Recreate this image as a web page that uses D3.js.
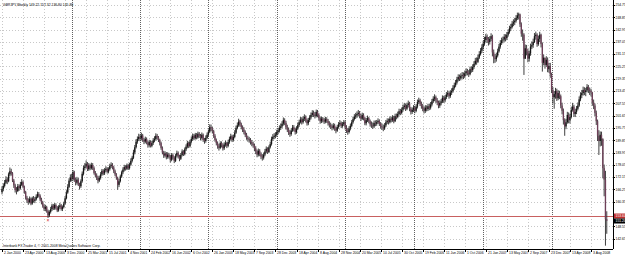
<!DOCTYPE html>
<meta charset="utf-8">
<script src="https://d3js.org/d3.v7.min.js"></script>
<style>
  body { margin: 0; background: #fff; }
  svg { display: block; }
  text { font-family: "Liberation Sans", Arial, sans-serif; }
</style>
<div id="chart"></div>
<script>
  // weekly GBPJPY bars, first bar dated 2 Jan 2000, one bar per week
  var startDate = new Date(2000, 0, 2);
  var firstOpen = 165.0;

  var closes = [
    // 2000
    166.5,168.0,169.5,171.0,170.2,173.5,175.0,174.0,170.5,168.2,166.0,165.5,167.8,166.9,168.5,169.8,
    167.5,165.0,162.3,161.0,160.2,161.8,159.5,162.0,160.8,161.5,162.8,164.0,163.2,161.5,160.0,158.2,
    157.0,157.8,155.9,153.8,155.5,156.8,158.5,157.2,158.8,157.5,156.2,157.9,158.6,156.9,157.8,159.5,
    162.0,164.8,167.5,170.5,
    // 2001
    172.0,171.2,174.5,170.8,169.5,171.0,168.6,167.8,170.2,173.8,176.5,177.3,178.6,176.0,177.8,176.4,
    178.0,176.5,174.2,173.0,172.0,170.5,171.8,173.5,175.2,174.0,175.5,176.2,174.8,176.0,177.5,178.1,
    176.8,175.0,173.5,171.8,168.5,170.2,172.5,174.5,175.8,177.0,176.2,177.8,176.5,178.2,180.0,181.5,
    184.0,186.5,189.2,190.5,
    // 2002
    191.5,190.8,192.2,190.0,189.2,190.5,188.8,187.5,189.0,187.2,188.5,189.8,190.5,192.0,191.2,190.0,
    188.5,186.2,184.0,182.5,183.5,181.8,183.0,182.0,180.5,182.8,181.5,180.0,182.5,183.8,182.0,181.0,
    182.8,184.5,183.2,185.5,186.8,188.5,187.0,189.2,190.5,192.0,190.8,192.5,191.2,193.0,192.0,191.0,
    192.5,190.0,189.5,191.0,
    // 2003
    192.5,194.0,196.2,195.5,194.2,192.0,190.0,188.5,187.0,186.2,188.5,187.5,186.0,187.8,188.5,187.2,
    189.0,190.5,191.8,190.0,191.5,193.5,195.8,197.0,198.8,197.5,196.2,195.0,193.8,192.5,191.0,190.5,
    190.0,189.0,188.2,187.5,186.0,184.5,183.0,184.8,183.2,182.0,181.5,183.0,184.5,185.8,184.2,186.5,
    188.0,190.5,191.5,192.0,
    // 2004
    192.5,193.8,194.5,195.8,196.5,197.8,199.5,198.2,196.0,195.0,193.5,192.8,194.5,196.0,195.2,193.8,
    195.5,197.2,198.5,199.8,198.5,200.2,201.0,199.5,198.0,199.5,200.8,202.0,203.0,202.2,201.5,203.5,
    202.0,200.5,199.0,200.2,199.5,198.8,200.0,199.2,198.0,197.2,196.5,195.8,197.0,195.5,194.5,196.2,
    197.5,198.2,196.8,197.5,198.5,
    // 2005
    196.0,194.5,193.8,195.5,196.8,198.5,200.0,201.2,201.8,202.5,203.0,201.5,200.2,202.0,200.5,198.0,
    199.5,200.5,199.0,197.5,197.0,196.5,198.2,197.8,198.5,199.2,197.8,196.5,196.0,195.5,197.0,198.5,
    199.2,198.5,200.2,199.5,200.8,199.0,201.5,201.0,202.5,203.8,203.0,204.5,205.8,206.5,205.0,206.8,
    207.5,205.0,203.5,204.5,
    // 2006
    205.5,204.0,206.0,208.2,209.0,207.5,206.2,205.0,204.0,205.5,204.8,206.2,205.5,207.0,208.5,209.8,
    210.5,209.0,208.0,206.5,207.8,208.5,210.2,209.0,210.5,211.8,212.5,211.0,212.8,213.5,215.0,216.2,
    217.5,219.0,220.2,219.5,220.8,221.2,220.5,222.0,223.0,222.2,221.5,224.0,223.5,225.0,226.5,228.0,
    227.5,229.5,231.2,232.8,
    // 2007
    234.5,236.2,238.0,239.5,238.2,237.0,238.5,239.8,232.0,229.5,228.8,230.5,232.5,234.8,236.5,237.8,
    238.2,239.5,238.8,240.5,241.8,243.5,244.2,245.8,246.5,247.2,248.5,249.8,250.2,245.5,241.0,240.5,
    229.0,234.0,232.5,229.0,231.5,234.8,235.5,237.0,239.8,240.5,236.0,238.5,240.5,236.0,227.0,229.5,
    226.0,228.5,224.0,225.5,
    // 2008
    221.5,214.0,210.5,212.0,213.5,210.0,212.5,211.0,206.5,204.0,199.5,196.5,198.5,202.0,199.5,201.0,
    204.5,206.0,202.5,203.5,205.0,206.5,209.5,211.5,212.5,214.0,213.0,213.8,215.5,214.0,213.5,212.8,
    208.0,206.5,203.0,199.0,192.0,189.5,192.5,190.5,176.5,171.0,152.0,151.2
  ];

  var highs = [
    // 2000
    167.8,169.2,170.8,172.6,172.1,174.4,176.8,176.2,174.6,171.3,169.0,167.4,168.9,168.7,169.9,171.2,
    170.4,168.1,165.6,163.2,162.0,162.9,162.4,162.8,163.1,162.6,163.9,165.2,165.0,163.9,162.3,160.8,
    159.1,158.9,158.4,156.6,156.3,157.9,159.4,159.3,159.7,159.6,158.3,158.7,159.8,159.3,158.6,160.4,
    163.1,165.9,168.8,171.6,
    // 2001
    173.5,173.8,175.6,175.2,171.9,172.3,171.8,169.5,171.1,174.9,177.8,178.9,180.2,179.4,178.9,178.6,
    179.1,178.9,177.3,175.1,174.0,172.8,172.9,174.6,176.1,176.0,176.5,177.4,177.0,176.9,178.6,179.3,
    178.9,177.6,175.8,174.1,172.4,171.3,173.4,175.3,176.9,178.1,177.9,178.7,178.6,179.1,181.2,182.4,
    185.3,187.6,190.4,191.7,
    // 2002
    193.0,192.7,193.5,192.9,191.0,191.6,191.2,189.6,190.1,189.8,189.6,190.9,191.8,193.2,192.9,191.9,
    190.6,189.2,186.9,184.8,184.6,184.2,184.1,183.8,182.9,183.7,183.6,182.2,183.4,184.9,184.5,182.9,
    183.7,185.5,185.1,186.4,187.9,189.6,189.2,190.1,191.7,193.1,192.9,193.4,193.3,194.0,193.8,192.9,
    193.6,193.1,191.0,192.2,
    // 2003
    193.6,195.1,197.5,197.4,196.3,194.9,192.8,190.7,189.3,188.0,189.4,189.3,188.4,188.9,189.7,189.1,
    190.1,191.6,193.0,192.5,192.6,194.7,196.9,198.4,200.2,199.6,198.3,197.0,196.1,194.6,193.4,192.0,
    191.5,190.9,190.0,189.2,188.3,187.0,185.4,185.9,185.6,184.1,183.2,184.0,185.7,186.9,186.5,187.4,
    189.2,191.6,192.8,193.3,
    // 2004
    193.7,194.9,195.8,197.0,197.9,199.0,200.8,200.4,199.2,197.3,196.0,194.7,195.6,197.2,197.1,195.9,
    196.6,198.4,199.7,201.0,200.9,201.4,202.3,201.8,200.3,200.6,201.9,203.2,204.3,204.1,203.4,204.6,
    204.4,202.8,201.3,201.2,201.0,200.6,201.1,200.9,200.1,199.0,198.3,197.6,198.1,197.8,196.4,197.3,
    198.6,199.5,198.9,198.6,199.6,
    // 2005
    199.2,197.1,195.7,196.6,197.9,199.6,201.2,202.4,203.0,203.7,204.4,203.9,202.6,203.1,202.8,201.2,
    200.6,201.7,201.1,199.8,198.9,198.4,199.3,199.4,199.6,200.4,199.9,198.6,197.9,197.4,198.1,199.6,
    200.4,200.3,201.3,201.2,201.9,201.6,202.6,202.7,203.6,205.0,204.9,205.6,207.0,207.8,207.4,207.9,
    208.9,208.3,205.9,205.6,
    // 2006
    206.7,206.4,207.2,209.4,210.3,209.8,208.4,207.3,206.1,206.7,206.6,207.4,207.3,208.2,209.7,211.0,
    211.9,211.3,210.1,208.9,209.0,209.7,211.4,211.2,211.6,213.0,213.8,213.4,213.9,214.8,216.3,217.5,
    218.8,220.3,221.5,221.4,222.0,222.6,222.4,223.3,224.4,224.1,223.5,225.2,225.3,226.3,227.8,229.4,
    229.6,230.8,232.6,234.1,
    // 2007
    235.9,237.6,239.5,240.9,240.6,239.4,239.8,241.2,240.5,233.4,231.2,231.9,233.8,236.1,237.9,239.1,
    239.6,240.8,240.7,241.8,243.1,244.8,245.7,247.1,247.9,248.6,249.9,251.1,251.1,250.6,246.4,243.0,
    241.2,235.8,235.6,233.7,232.8,236.2,237.3,238.6,241.3,242.0,241.2,240.1,241.9,241.0,236.8,231.0,
    229.4,230.2,229.6,227.0,
    // 2008
    227.0,222.3,215.4,213.5,215.0,214.6,213.9,213.6,211.8,207.9,205.1,200.4,200.1,203.5,203.2,202.6,
    206.0,207.8,206.9,205.0,206.3,208.0,210.9,212.9,214.0,215.6,215.3,215.0,216.8,216.4,215.2,214.6,
    213.1,209.4,207.5,204.1,199.8,194.7,194.1,194.0,190.8,178.2,175.2,155.8
  ];

  var lows = [
    // 2000
    163.9,165.4,167.2,168.9,168.8,169.7,172.6,172.9,169.8,167.0,164.8,163.9,165.0,165.6,166.2,167.9,
    166.8,164.2,161.4,159.8,158.9,159.6,158.7,158.9,160.0,159.7,160.9,162.1,162.4,160.6,159.1,157.5,
    156.0,155.8,155.1,152.6,153.0,154.7,155.9,156.4,156.5,156.6,155.4,155.6,157.0,156.1,155.9,157.2,
    159.0,161.5,164.2,166.9,
    // 2001
    169.8,170.1,170.5,169.9,168.2,168.6,167.9,166.2,167.0,169.5,173.0,175.4,176.5,175.1,175.2,175.5,
    175.8,175.6,173.4,172.0,170.8,169.2,169.8,171.0,172.8,173.1,173.2,174.6,173.9,174.0,175.3,176.6,
    175.9,174.1,172.6,170.9,166.1,167.4,169.6,171.8,173.6,174.9,175.3,175.6,175.6,175.8,177.6,179.2,
    180.8,183.1,185.9,188.2,
    // 2002
    189.6,189.4,189.9,189.1,188.0,188.4,187.9,186.3,186.7,186.4,186.5,187.6,188.9,189.7,190.1,189.0,
    187.4,185.3,183.1,181.4,181.6,180.7,181.0,181.1,179.2,179.8,180.6,178.9,179.4,181.6,181.1,179.8,
    180.4,182.1,182.3,182.6,184.7,186.0,186.1,186.4,188.3,189.6,189.9,190.2,190.3,190.6,191.0,189.8,
    190.2,189.1,188.2,188.7,
    // 2003
    190.4,191.7,193.3,194.2,193.1,191.0,189.2,187.4,185.8,184.9,185.6,186.4,184.9,185.2,186.8,186.1,
    186.5,188.2,189.7,189.0,189.3,190.8,192.9,195.1,196.3,196.4,195.1,193.8,192.7,191.4,190.1,189.2,
    188.7,187.8,187.0,186.3,184.6,183.2,181.7,182.1,182.2,180.8,180.1,180.6,182.2,183.6,183.3,183.7,
    185.9,187.3,189.6,190.4,
    // 2004
    190.9,191.5,192.7,193.6,194.8,195.6,196.9,197.1,195.0,193.8,192.4,191.5,192.0,193.9,194.1,192.6,
    193.0,194.9,196.3,197.9,197.4,197.8,199.1,198.4,196.9,197.1,198.6,199.9,201.1,201.0,200.3,200.8,
    200.9,199.4,197.8,198.1,198.4,197.7,198.0,198.2,196.9,196.0,195.3,194.6,195.0,194.4,193.2,193.9,
    195.4,196.6,195.7,195.9,196.7,
    // 2005
    195.0,193.4,192.5,193.1,194.6,196.1,197.8,199.3,200.1,200.6,201.3,200.4,199.1,199.6,199.4,197.1,
    197.0,198.6,198.0,196.4,195.8,195.3,195.7,196.6,196.8,197.6,196.7,195.4,194.8,194.2,194.8,196.2,
    197.6,197.4,197.9,198.4,198.7,198.0,198.6,199.9,200.4,201.7,201.9,202.3,203.6,204.7,203.9,204.3,
    205.6,203.8,202.2,202.5,
    // 2006
    203.4,202.8,203.3,205.1,207.2,206.3,205.0,203.8,202.7,203.0,203.7,203.9,204.3,204.6,206.1,207.7,
    208.6,207.8,206.7,205.2,205.4,206.6,207.7,207.8,208.1,209.6,210.7,209.8,210.2,211.6,212.7,214.1,
    215.3,216.6,218.1,218.3,218.6,219.4,219.2,219.7,220.9,221.0,220.2,221.0,222.3,222.6,224.1,225.8,
    226.1,226.9,228.8,230.5,
    // 2007
    231.7,233.4,235.2,236.8,236.5,235.3,235.8,237.4,230.1,226.8,227.0,227.6,229.6,231.9,233.8,235.6,
    236.4,237.1,237.3,237.9,239.6,241.0,242.3,243.5,244.6,245.1,246.3,247.6,247.8,244.2,239.5,237.6,
    221.2,228.9,230.6,227.3,227.6,230.4,233.6,234.2,236.5,238.1,234.7,235.2,237.0,234.4,222.8,225.8,
    224.2,225.1,222.5,222.3,
    // 2008
    219.8,212.5,207.6,205.0,209.8,208.7,209.1,209.6,205.2,202.3,197.4,192.0,195.2,197.8,198.0,197.9,
    200.3,203.6,201.1,201.0,202.4,204.2,205.9,208.6,210.1,211.3,211.5,211.0,212.9,212.5,211.6,210.9,
    206.4,204.8,201.5,197.2,189.5,182.8,186.9,187.2,171.6,163.0,139.3,145.0
  ];

  // axis text
  var priceTicks = [254.75,248.85,242.95,237.05,231.15,225.25,219.35,213.45,207.55,201.65,
                    195.75,189.85,183.95,178.05,172.15,166.25,160.35,148.55,142.65];
  var dateLabels = ["2 Jan 2000","23 Apr 2000","13 Aug 2000","3 Dec 2000","25 Mar 2001","15 Jul 2001",
    "4 Nov 2001","24 Feb 2002","16 Jun 2002","6 Oct 2002","26 Jan 2003","18 May 2003","7 Sep 2003",
    "28 Dec 2003","18 Apr 2004","8 Aug 2004","28 Nov 2004","20 Mar 2005","10 Jul 2005","30 Oct 2005",
    "19 Feb 2006","11 Jun 2006","1 Oct 2006","21 Jan 2007","13 May 2007","2 Sep 2007","23 Dec 2007",
    "13 Apr 2008","3 Aug 2008"];
  var headerText = "GBPJPY,Weekly  149.22 157.32 136.80 145.80";
  var footerText = "Interbank FX Trader 4, \u00a9 2001-2008 MetaQuotes Software Corp.";
  var levelLine = 153.6;   // red horizontal line
  var bidPrice = 151.2;    // current price

  var W = 625, H = 255;
  var plotRight = 613, plotBottom = 249;
  var fs = 3.4;            // tiny chart font

  var svg = d3.select("#chart").append("svg")
      .attr("width", W)
      .attr("height", H);

  svg.append("rect").attr("width", W).attr("height", H).attr("fill", "#fff");

  var x = d3.scaleLinear().domain([0, 448]).range([2, 591]);
  var y = d3.scaleLinear().domain([137.7, 257.15]).range([plotBottom, 0]);
  var step = x(1) - x(0);

  var bars = closes.map(function(c, i) {
    return {
      i: i,
      date: d3.timeDay.offset(startDate, 7 * i),
      open: i ? closes[i - 1] : firstOpen,
      high: highs[i], low: lows[i], close: c
    };
  });

  // horizontal grid
  svg.append("g").selectAll("line")
    .data(priceTicks).enter().append("line")
      .attr("x1", 0).attr("x2", plotRight)
      .attr("y1", function(d) { return Math.round(y(d)) + 0.5; })
      .attr("y2", function(d) { return Math.round(y(d)) + 0.5; })
      .attr("stroke", "#c8c8c8").attr("stroke-dasharray", "1,2");

  // vertical grid at date labels
  var fmt = d3.timeParse("%e %b %Y");
  var dateBars = dateLabels.map(function(s) {
    return { label: s, i: Math.round((fmt(s) - startDate) / (7 * 864e5)) };
  });
  svg.append("g").selectAll("line")
    .data(dateBars).enter().append("line")
      .attr("x1", function(d) { return Math.round(x(d.i)) + 0.5; })
      .attr("x2", function(d) { return Math.round(x(d.i)) + 0.5; })
      .attr("y1", 0).attr("y2", plotBottom)
      .attr("stroke", "#c8c8c8").attr("stroke-dasharray", "1,2");

  // year separators
  var yearStarts = bars.filter(function(d, k) {
    return k > 0 && d.date.getFullYear() != bars[k - 1].date.getFullYear();
  });
  svg.append("g").selectAll("line")
    .data(yearStarts).enter().append("line")
      .attr("x1", function(d) { return Math.round(x(d.i)) + 0.5; })
      .attr("x2", function(d) { return Math.round(x(d.i)) + 0.5; })
      .attr("y1", 0).attr("y2", plotBottom)
      .attr("stroke", "#606060").attr("stroke-dasharray", "1,1");

  // level line
  svg.append("line")
    .attr("x1", 0).attr("x2", plotRight)
    .attr("y1", Math.round(y(levelLine)) + 0.5).attr("y2", Math.round(y(levelLine)) + 0.5)
    .attr("stroke", "#c86060");

  // candles
  var g = svg.append("g");
  g.selectAll("line.wick")
    .data(bars).enter().append("line")
      .attr("class", "wick")
      .attr("x1", function(d) { return x(d.i); })
      .attr("x2", function(d) { return x(d.i); })
      .attr("y1", function(d) { return y(d.high); })
      .attr("y2", function(d) { return y(d.low); })
      .attr("stroke", "#2a2a2a").attr("stroke-width", 0.9);
  g.selectAll("rect.body")
    .data(bars).enter().append("rect")
      .attr("class", "body")
      .attr("x", function(d) { return x(d.i) - step / 2; })
      .attr("width", step)
      .attr("y", function(d) { return y(Math.max(d.open, d.close)); })
      .attr("height", function(d) { return Math.max(0.6, Math.abs(y(d.open) - y(d.close))); })
      .attr("fill", function(d) { return d.close >= d.open ? "#151515" : "#6e3f58"; });

  // low marker of 2000
  var lowBar = bars.slice(0, 60).reduce(function(a, b) { return b.low < a.low ? b : a; });
  svg.append("text")
    .attr("x", x(lowBar.i)).attr("y", y(lowBar.low) + 4)
    .attr("text-anchor", "middle").attr("font-size", 5).attr("fill", "#d02020")
    .text("\u00d7");

  // frame
  svg.append("line").attr("x1", plotRight + 0.5).attr("x2", plotRight + 0.5)
    .attr("y1", 0).attr("y2", plotBottom).attr("stroke", "#000");
  svg.append("line").attr("x1", 0).attr("x2", plotRight)
    .attr("y1", plotBottom + 0.5).attr("y2", plotBottom + 0.5).attr("stroke", "#000");

  // price labels
  svg.append("g").selectAll("text")
    .data(priceTicks).enter().append("text")
      .attr("x", plotRight + 2.5).attr("y", function(d) { return y(d) + 1.3; })
      .attr("font-size", fs).attr("fill", "#000")
      .text(function(d) { return d.toFixed(2); });
  svg.append("g").selectAll("line")
    .data(priceTicks).enter().append("line")
      .attr("x1", plotRight).attr("x2", plotRight + 2)
      .attr("y1", function(d) { return Math.round(y(d)) + 0.5; })
      .attr("y2", function(d) { return Math.round(y(d)) + 0.5; })
      .attr("stroke", "#000");

  // red and black price boxes
  function priceBox(v, fill) {
    var yy = Math.round(y(v));
    svg.append("rect").attr("x", plotRight + 1).attr("y", yy - 2.5)
      .attr("width", 12).attr("height", 5).attr("fill", fill);
    svg.append("text").attr("x", plotRight + 2.5).attr("y", yy + 1.3)
      .attr("font-size", fs).attr("fill", "#fff").text(v.toFixed(2));
  }
  priceBox(levelLine, "#c03030");
  priceBox(bidPrice, "#000");

  // date labels
  var dl = svg.append("g").selectAll("g")
    .data(dateBars).enter().append("g")
      .attr("transform", function(d) { return "translate(" + (Math.round(x(d.i)) + 0.5) + "," + plotBottom + ")"; });
  dl.append("line").attr("y1", 0).attr("y2", 3).attr("stroke", "#000");
  dl.append("text").attr("x", 1.5).attr("y", 4.8)
    .attr("font-size", fs).attr("fill", "#000")
    .text(function(d) { return d.label; });

  // header and footer
  svg.append("text").attr("x", 3).attr("y", 6)
    .attr("font-size", fs).attr("fill", "#000").text(headerText);
  svg.append("text").attr("x", 3).attr("y", 246.5)
    .attr("font-size", fs).attr("fill", "#000").text(footerText);
</script>
